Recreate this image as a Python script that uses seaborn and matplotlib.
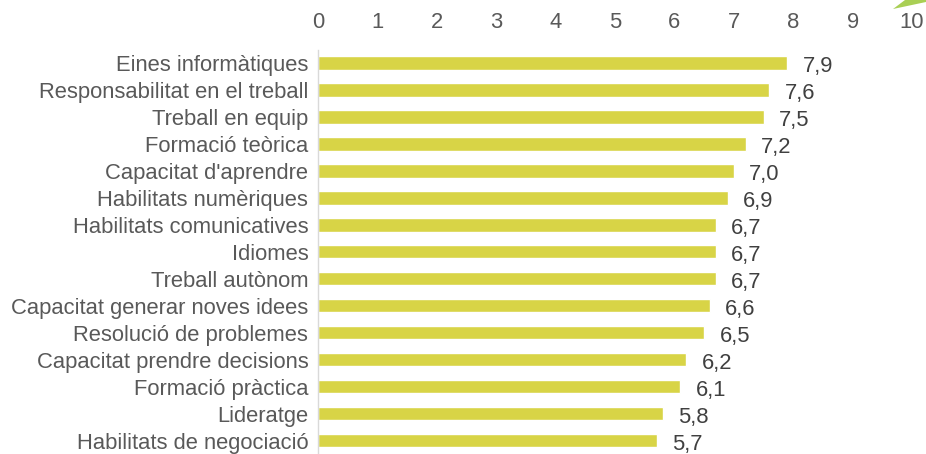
import numpy as np
import pandas as pd
import matplotlib
matplotlib.use("Agg")
import matplotlib.pyplot as plt
import seaborn as sns
from matplotlib.patches import Polygon

categories = ["Eines informàtiques", "Responsabilitat en el treball", "Treball en equip",
              "Formació teòrica", "Capacitat d'aprendre", "Habilitats numèriques",
              "Habilitats comunicatives", "Idiomes", "Treball autònom",
              "Capacitat generar noves idees", "Resolució de problemes",
              "Capacitat prendre decisions", "Formació pràctica", "Lideratge",
              "Habilitats de negociació"]
values = [7.9, 7.6, 7.5, 7.2, 7.0, 6.9, 6.7, 6.7, 6.7, 6.6, 6.5, 6.2, 6.1, 5.8, 5.7]
x_ticks = list(range(0, 11))

df = pd.DataFrame({"cat": categories, "val": values})

sns.set_style("white")
plt.rcParams["font.family"] = ["Liberation Sans", "DejaVu Sans"]
text_col = "#595959"
grid_col = "#D9D9D9"
fs = 15.8

fig = plt.figure(figsize=(9.26, 4.54), dpi=100)
ax = fig.add_axes([0.3434, 0.0, 0.9849 - 0.3434, 1 - 49.5 / 454])

sns.barplot(data=df, x="val", y="cat", orient="h", color="#D8D446",
            saturation=1, width=0.5, ax=ax)

for i, v in enumerate(values):
    ax.annotate(f"{v:.1f}".replace(".", ","), xy=(v, i), xytext=(11, -1),
                textcoords="offset points", ha="left", va="center_baseline",
                fontsize=fs, color="#404040")

ax.set_xlim(0, 10)
ax.set_ylim(14.29, -0.5)
ax.xaxis.tick_top()
ax.set_xticks(x_ticks)
ax.set_xticklabels([str(t) for t in x_ticks])
ax.tick_params(axis="x", length=0, pad=12, labelsize=fs, labelcolor=text_col)
ax.tick_params(axis="y", which="major", length=0, pad=7, labelsize=fs, labelcolor=text_col)
ax.set_yticks(np.arange(-0.5, len(categories), 1), minor=True)
ax.tick_params(axis="y", which="minor", length=5, color=grid_col, width=1)
ax.set_xlabel("")
ax.set_ylabel("")

for s in ["top", "right", "bottom"]:
    ax.spines[s].set_visible(False)
ax.spines["left"].set_color(grid_col)
ax.spines["left"].set_linewidth(1)

# decorative green sliver in the top right corner
fig.patches.append(Polygon([[893 / 926, 1 - 9 / 454], [926 / 926, 1 - 2 / 454],
                            [926 / 926, 1.0], [905 / 926, 1.0]],
                           closed=True, transform=fig.transFigure,
                           facecolor="#A9CF54", edgecolor="none"))

fig.savefig("out.png", dpi=100)
